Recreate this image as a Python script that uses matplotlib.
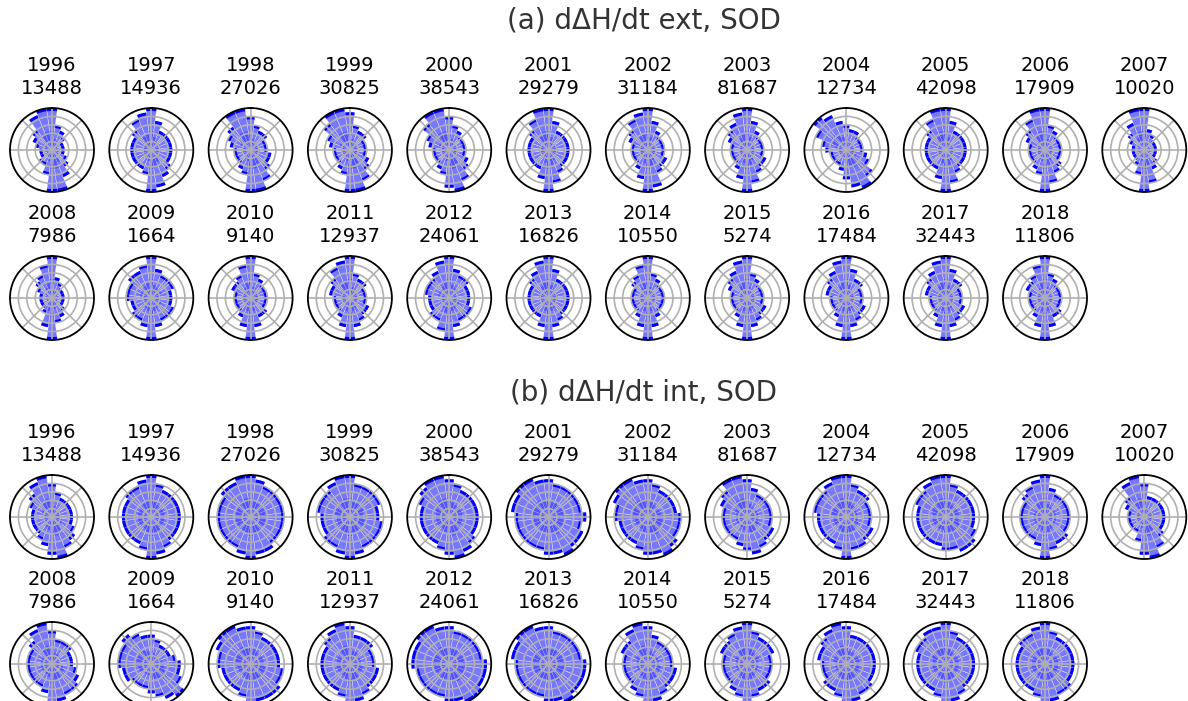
import numpy as np
import matplotlib
matplotlib.use("Agg")
import matplotlib.pyplot as plt

years = [1996, 1997, 1998, 1999, 2000, 2001, 2002, 2003, 2004, 2005, 2006, 2007,
         2008, 2009, 2010, 2011, 2012, 2013, 2014, 2015, 2016, 2017, 2018]
counts = [13488, 14936, 27026, 30825, 38543, 29279, 31184, 81687, 12734, 42098, 17909, 10020,
          7986, 1664, 9140, 12937, 24061, 16826, 10550, 5274, 17484, 32443, 11806]

# bin centres in degrees, clockwise from north
bin_deg = list(range(0, 360, 15))

# relative bar lengths (tenths of the outer ring), panel (a) ext
rose_ext = [
    [10,6,5,4,3,3,3,3,4,5,7,10,10,6,4,4,3,3,3,4,5,6,9,10],
    [10,7,5,5,5,5,5,5,5,6,7,9,10,6,5,5,5,5,5,5,5,6,8,9],
    [8,6,5,5,4,4,4,5,5,6,8,10,10,6,5,4,4,4,4,5,6,7,10,10],
    [9,6,5,5,4,4,4,4,5,6,8,10,10,6,5,4,4,4,4,5,6,8,10,10],
    [8,6,5,4,4,4,4,4,5,6,8,10,9,6,5,4,4,4,4,5,6,8,10,10],
    [10,7,5,5,5,5,5,5,5,5,6,8,10,7,5,5,5,5,5,5,5,6,8,10],
    [10,7,5,4,4,4,4,4,5,5,6,9,10,7,5,4,4,4,4,4,5,6,8,9],
    [10,7,5,4,4,4,4,4,5,5,6,8,10,7,5,4,4,4,4,4,5,6,7,9],
    [6,5,5,4,4,4,4,5,6,8,10,9,7,5,4,4,4,4,5,6,8,10,9,7],
    [10,7,5,5,5,5,5,5,5,5,6,8,10,7,5,5,5,5,5,5,5,6,8,10],
    [10,6,5,4,4,4,4,4,4,5,6,8,10,6,5,4,4,4,4,4,5,6,8,10],
    [10,5,4,3,3,3,3,3,3,4,5,8,10,6,4,3,3,3,3,3,4,5,7,10],
    [10,5,4,3,3,3,3,3,3,4,5,6,10,7,4,3,3,3,3,3,4,5,6,8],
    [10,7,6,6,6,5,5,5,6,6,6,7,10,7,6,6,5,5,6,6,6,7,7,8],
    [10,6,5,4,4,4,4,4,4,5,5,7,10,7,5,4,4,4,4,4,5,5,6,8],
    [10,6,5,5,4,4,4,4,5,5,6,7,10,7,5,4,4,4,4,5,5,6,8,9],
    [10,7,6,6,5,5,5,5,6,6,6,7,10,8,6,6,5,5,5,6,6,6,7,9],
    [10,7,5,5,5,5,5,5,5,5,6,7,10,7,5,5,5,5,5,5,5,6,7,9],
    [10,6,5,4,4,4,4,4,4,4,5,7,10,7,5,4,4,4,4,4,4,5,6,8],
    [10,6,5,4,4,4,4,4,5,5,6,7,10,7,5,4,4,4,4,4,5,6,7,9],
    [10,7,5,5,4,4,4,4,5,5,6,7,10,7,5,4,4,4,4,5,5,6,7,9],
    [10,7,5,5,4,4,4,4,5,5,6,7,10,7,5,4,4,4,4,5,5,6,7,9],
    [10,6,5,4,4,4,4,4,4,5,5,7,10,7,5,4,4,4,4,4,5,5,6,8],
]

# panel (b) int
rose_int = [
    [8,6,5,5,5,5,5,5,6,7,8,10,9,7,6,5,5,5,5,5,6,7,9,10],
    [10,8,7,7,7,7,7,7,7,7,8,9,10,8,7,7,7,7,7,7,7,8,8,9],
    [10,9,8,8,8,8,8,8,8,8,9,9,10,9,8,8,8,8,8,8,8,9,9,10],
    [10,8,8,8,8,7,7,8,8,8,8,9,10,9,8,8,7,7,7,8,8,8,9,10],
    [9,8,7,7,7,7,7,7,7,8,9,10,9,8,7,7,7,7,7,7,8,9,10,10],
    [9,8,8,8,8,8,9,8,9,9,10,9,9,8,8,8,8,8,8,9,9,10,10,9],
    [9,8,7,7,7,7,8,8,8,9,10,9,9,8,7,7,7,7,8,8,9,10,10,9],
    [9,7,6,6,6,6,6,6,7,7,8,9,8,7,6,6,6,6,6,6,7,8,10,10],
    [10,8,7,7,6,6,6,6,7,7,8,8,10,8,7,7,7,7,7,8,8,8,9,10],
    [10,8,7,7,7,7,7,7,8,9,9,8,8,7,7,7,7,7,7,7,8,8,9,10],
    [10,7,6,6,6,6,6,6,6,7,7,8,10,7,6,6,6,6,6,6,6,7,8,9],
    [8,5,5,5,5,5,5,5,5,6,8,10,9,6,4,4,4,4,4,4,5,6,9,10],
    [8,6,6,6,5,5,5,6,7,8,8,9,10,7,6,6,6,6,6,6,6,7,9,10],
    [7,6,5,5,5,6,7,7,8,10,9,8,7,6,6,6,7,7,8,8,8,9,8,7],
    [9,8,7,7,7,7,7,8,8,9,9,9,10,8,7,7,7,7,8,8,9,10,10,9],
    [9,7,7,7,6,6,6,7,7,7,8,9,10,8,7,7,7,7,7,7,7,8,9,10],
    [9,8,8,8,8,8,9,9,9,10,10,9,9,8,8,8,8,8,9,9,9,10,10,9],
    [9,8,8,8,8,8,9,9,9,9,10,9,9,8,8,8,8,8,8,9,9,10,10,9],
    [9,7,6,6,6,6,6,7,7,7,8,9,10,8,7,6,6,6,6,6,7,7,9,10],
    [10,8,7,7,7,6,6,6,6,7,7,8,10,8,7,6,6,6,6,6,7,7,8,9],
    [9,7,7,7,7,7,7,7,7,8,8,9,10,8,7,7,6,6,6,7,7,8,9,10],
    [10,8,7,7,7,7,7,7,7,7,8,9,10,8,7,7,7,7,7,7,8,8,9,9],
    [10,8,7,7,7,7,7,7,7,8,8,9,10,8,7,7,7,7,7,7,7,8,8,9],
]

panel_titles = ["(a) d\u0394H/dt ext, SOD", "(b) d\u0394H/dt int, SOD"]

W, H = 1188, 701
fig = plt.figure(figsize=(W / 100, H / 100), dpi=100)

theta = np.deg2rad(bin_deg)
width = np.deg2rad(15)

R = 42
col_x = [52 + 99.3 * i for i in range(12)]
row_y = [[150, 298], [517, 664]]
title_y = [20, 392]

def draw_rose(cx, cy, vals, label):
    ax = fig.add_axes([(cx - R) / W, 1 - (cy + R) / H, 2 * R / W, 2 * R / H],
                      projection="polar")
    r = np.array(vals) / 10.0
    ax.bar(theta, r, width=width, bottom=0, color=(0.15, 0.15, 1.0, 0.62),
           edgecolor=(1, 1, 1, 0.7), linewidth=0.35, zorder=1)
    ax.bar(theta, r * 0.45, width=width, bottom=0, color=(0, 0, 1, 0.3),
           linewidth=0, zorder=1)
    ax.bar(theta, 0.07, width=width * 0.95, bottom=r - 0.07, color="blue",
           linewidth=0, zorder=1)
    ax.set_theta_zero_location("N")
    ax.set_theta_direction(-1)
    ax.set_ylim(0, 1.0)
    ax.set_yticks([0.2, 0.4, 0.6, 0.8])
    ax.set_yticklabels([])
    ax.set_xticks(np.deg2rad(np.arange(0, 360, 45)))
    ax.set_xticklabels([])
    ax.grid(True, color="#b0b0b0", linewidth=1.2)
    ax.spines["polar"].set_linewidth(1.3)
    ax.spines["polar"].set_color("black")
    ax.set_title(label, fontsize=14, pad=10, linespacing=1.25)
    return ax

for p, data in enumerate([rose_ext, rose_int]):
    fig.text(644 / W, 1 - title_y[p] / H, panel_titles[p], fontsize=20,
             color="#333333", ha="center", va="center")
    for k, (yr, n) in enumerate(zip(years, counts)):
        row = 0 if k < 12 else 1
        col = k if k < 12 else k - 12
        draw_rose(col_x[col], row_y[p][row], data[k], f"{yr}\n{n}")

fig.savefig("out.png", dpi=100)
